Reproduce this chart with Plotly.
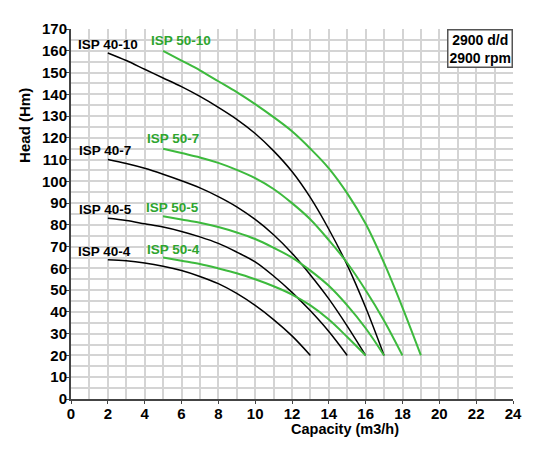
import plotly.graph_objects as go

# pump curves: capacity (m3/h) vs head (m) at each m3/h
isp40_10_q = list(range(2, 18))
isp40_10_h = [159, 155.5, 151.5, 147.5, 143.5, 139, 134, 128.5, 122, 114, 104.5, 92.5, 78, 61.5, 42, 20]

isp40_7_q = list(range(2, 17))
isp40_7_h = [110, 108.2, 106, 103.3, 100.3, 97, 93, 88.3, 82.5, 75.5, 67, 57, 46, 33.5, 20]

isp40_5_q = list(range(2, 16))
isp40_5_h = [83, 82, 80.5, 79, 77, 74.5, 71.5, 67.5, 63, 56.5, 49, 40.5, 31, 20]

isp40_4_q = list(range(2, 14))
isp40_4_h = [64, 63.5, 62.5, 61, 59, 56.3, 53, 48.5, 43, 36.5, 29, 20]

isp50_10_q = list(range(5, 20))
isp50_10_h = [160, 155.5, 151, 146, 141, 135.5, 129.5, 123, 115, 106, 94.5, 80.5, 62.5, 42, 20]

isp50_7_q = list(range(5, 19))
isp50_7_h = [115, 113, 111, 108.5, 105.3, 101.5, 96.5, 90, 82.5, 73, 62.5, 50, 36, 20]

isp50_5_q = list(range(5, 18))
isp50_5_h = [84, 82.5, 81, 79, 76.5, 73.5, 69.5, 65, 59, 52, 43, 32.5, 20]

isp50_4_q = list(range(5, 17))
isp50_4_h = [65, 63.5, 62, 60, 57.8, 55, 51.8, 48, 43, 36.5, 28.5, 20]

curves = [
    ("ISP 40-10", isp40_10_q, isp40_10_h, "black"),
    ("ISP 40-7", isp40_7_q, isp40_7_h, "black"),
    ("ISP 40-5", isp40_5_q, isp40_5_h, "black"),
    ("ISP 40-4", isp40_4_q, isp40_4_h, "black"),
    ("ISP 50-10", isp50_10_q, isp50_10_h, "green"),
    ("ISP 50-7", isp50_7_q, isp50_7_h, "green"),
    ("ISP 50-5", isp50_5_q, isp50_5_h, "green"),
    ("ISP 50-4", isp50_4_q, isp50_4_h, "green"),
]

# label positions (x, y) in data units
label_pos = {
    "ISP 40-10": (0.25, 163),
    "ISP 40-7": (0.35, 114.4),
    "ISP 40-5": (0.3, 86.9),
    "ISP 40-4": (0.25, 67.6),
    "ISP 50-10": (4.25, 164.5),
    "ISP 50-7": (4.0, 119.5),
    "ISP 50-5": (3.95, 88.2),
    "ISP 50-4": (4.0, 68.5),
}

LINE_GREEN = "#3dba3d"
TEXT_GREEN = "#2ea52e"
FONT = "Arial, Liberation Sans, sans-serif"

fig = go.Figure()
for name, q, h, col in curves:
    fig.add_trace(
        go.Scatter(
            x=q,
            y=h,
            mode="lines",
            name=name,
            line=dict(color="black" if col == "black" else LINE_GREEN,
                      width=1.5 if col == "black" else 2, shape="spline", smoothing=1),
            showlegend=False,
            hoverinfo="skip",
        )
    )
    lx, ly = label_pos[name]
    fig.add_annotation(
        x=lx, y=ly, text="<b>%s</b>" % name, showarrow=False,
        xanchor="left", yanchor="middle",
        font=dict(family=FONT, size=13.5, color="black" if col == "black" else TEXT_GREEN),
    )

fig.add_annotation(
    x=1, y=1, xref="paper", yref="paper", xanchor="right", yanchor="top",
    text="<b>2900 d/d<br>2900 rpm</b>", showarrow=False, align="center",
    bgcolor="white", bordercolor="#555", borderwidth=1.5, borderpad=1,
    font=dict(family=FONT, size=14, color="black"),
)

fig.update_layout(
    width=548,
    height=450,
    margin=dict(l=63, r=43, t=21, b=59),
    paper_bgcolor="white",
    plot_bgcolor="white",
    font=dict(family=FONT, color="black"),
    xaxis=dict(
        range=[0, 24], dtick=2, tick0=0,
        showgrid=True, gridcolor="#d4d4d4", gridwidth=1.5,
        minor=dict(dtick=1, showgrid=True, gridcolor="#d4d4d4", gridwidth=1.5),
        showline=True, linecolor="#444", linewidth=2,
        ticks="outside", ticklen=3, tickcolor="#444",
        ticklabelstandoff=-3,
        tickfont=dict(family=FONT, size=15, weight="bold"),
        zeroline=False,
    ),
    yaxis=dict(
        range=[0, 170], dtick=10, tick0=0,
        showgrid=True, gridcolor="#d4d4d4", gridwidth=1.5,
        minor=dict(dtick=5, showgrid=True, gridcolor="#d4d4d4", gridwidth=1.5),
        showline=True, linecolor="#444", linewidth=2,
        ticks="outside", ticklen=3, tickcolor="#444",
        ticklabelstandoff=-4,
        tickfont=dict(family=FONT, size=15, weight="bold"),
        zeroline=False,
    ),
)

# axis titles placed as annotations (they sit off-centre in the original)
fig.add_annotation(
    x=14.9, y=-0.082, xref="x", yref="paper", xanchor="center", yanchor="middle",
    text="<b>Capacity (m3/h)</b>", showarrow=False,
    font=dict(family=FONT, size=14.5, color="black"),
)
fig.add_annotation(
    x=-0.104, y=125.5, xref="paper", yref="y", xanchor="center", yanchor="middle",
    text="<b>Head (Hm)</b>", showarrow=False, textangle=-90,
    font=dict(family=FONT, size=15, color="black"),
)

fig.write_html("out.html")
